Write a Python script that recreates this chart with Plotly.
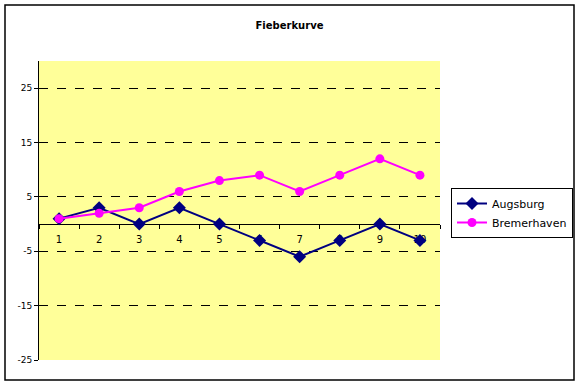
import plotly.graph_objects as go

categories = ["1", "2", "3", "4", "5", "6", "7", "8", "9", "10"]
augsburg = [1, 3, 0, 3, 0, -3, -6, -3, 0, -3]
bremerhaven = [1, 2, 3, 6, 8, 9, 6, 9, 12, 9]
y_ticks = [-25, -15, -5, 5, 15, 25]

W, H = 577, 385
L, R, T, B = 39, 137, 61, 25
pw, ph = W - L - R, H - T - B

def px_x(p):
    return (p - L) / pw

def px_y(p):
    return (H - B - p) / ph

fig = go.Figure()
fig.add_trace(go.Scatter(
    x=categories, y=augsburg, name="Augsburg", mode="lines+markers",
    line=dict(color="#000080", width=2),
    marker=dict(symbol="diamond", size=10, color="#000080"),
))
fig.add_trace(go.Scatter(
    x=categories, y=bremerhaven, name="Bremerhaven", mode="lines+markers",
    line=dict(color="#FF00FF", width=2),
    marker=dict(symbol="circle", size=9, color="#FF00FF"),
))

ymin, ymax = -25, 30
fig.update_layout(
    width=W, height=H,
    margin=dict(l=L, r=R, t=T, b=B, pad=0, autoexpand=False),
    paper_bgcolor="white",
    plot_bgcolor="#FFFF99",
    font=dict(family="DejaVu Sans", size=10, color="black"),
    title=dict(text="<b>Fieberkurve</b>", x=289.5 / W, xref="container", y=1 - 25 / H,
               yref="container", yanchor="middle", xanchor="center",
               font=dict(size=10, family="DejaVu Sans", color="black")),
    showlegend=True,
    legend=dict(
        x=px_x(451), y=px_y(188), xanchor="left", yanchor="top",
        bordercolor="black", borderwidth=1, bgcolor="white",
        font=dict(size=11, family="DejaVu Sans"),
        tracegroupgap=0, itemwidth=30,
    ),
    xaxis=dict(
        type="category", range=[-0.5, 9.5],
        anchor="free", position=(0 - ymin) / (ymax - ymin),
        showline=True, linecolor="black", linewidth=1,
        ticks="outside", ticklen=4, tickcolor="black", tickson="boundaries",
        showgrid=False, layer="below traces", ticklabelstandoff=6,
        tickfont=dict(size=10),
    ),
    yaxis=dict(
        range=[ymin, ymax], tickvals=y_ticks, ticktext=[str(v) for v in y_ticks],
        showline=True, linecolor="black", linewidth=1,
        ticks="outside", ticklen=4, tickcolor="black",
        showgrid=True, gridcolor="black", gridwidth=1, griddash="dash",
        zeroline=False, tickfont=dict(size=9),
    ),
    shapes=[dict(
        type="rect", xref="paper", yref="paper",
        x0=px_x(5), x1=px_x(574), y0=px_y(380), y1=px_y(5),
        line=dict(color="black", width=1.5), fillcolor="rgba(0,0,0,0)", layer="below",
    )],
)

fig.write_html("out.html", config={"displayModeBar": False})
with open("out.html", encoding="utf-8") as f:
    html = f.read()
html = html.replace("<head>", "<head><style>html,body{margin:0;padding:0;overflow:hidden;}</style>", 1)
with open("out.html", "w", encoding="utf-8") as f:
    f.write(html)
